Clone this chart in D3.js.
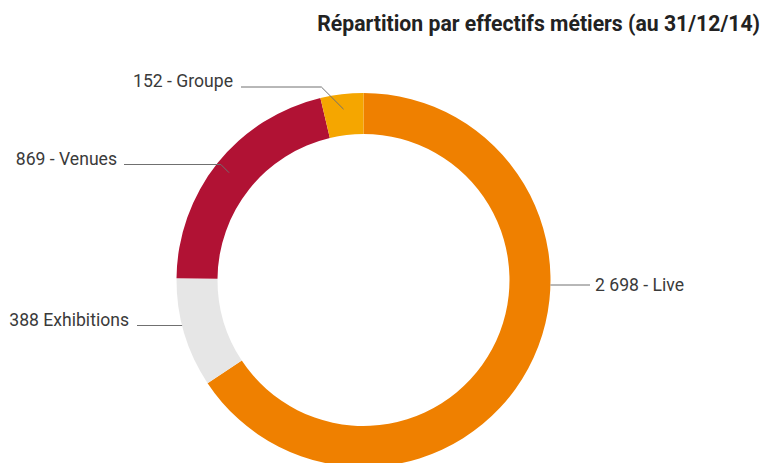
<!DOCTYPE html>
<html>
<head>
<meta charset="utf-8">
<script src="https://cdn.jsdelivr.net/npm/d3@7"></script>
<style>
  html, body { margin: 0; padding: 0; background: #fff; }
  svg { display: block; }
  .title { font-family: Roboto, sans-serif; font-weight: bold; fill: #222; }
  .lbl { font-family: Roboto, sans-serif; fill: #3a3a3a; }
  .leader { stroke: #707070; stroke-width: 1; fill: none; }
</style>
</head>
<body>
<script>
// data
var categories = ['Live', 'Exhibitions', 'Venues', 'Groupe'];
var values     = [2698, 388, 869, 152];
var labels     = ['2 698 - Live', '388 Exhibitions', '869 - Venues', '152 - Groupe'];
var colors     = ['#ef8000', '#e6e6e6', '#b11234', '#f5a600'];

var w = 764, h = 463;
var cx = 363.5, cy = 280,
    outerR = 187, innerR = 146;

var svg = d3.select('body').append('svg').attr('width', w).attr('height', h);

svg.append('text')
  .attr('class', 'title')
  .attr('x', 760).attr('y', 31)
  .attr('text-anchor', 'end')
  .style('font-size', '21.2px')
  .text('Répartition par effectifs métiers (au 31/12/14)');

var pie = d3.pie().sort(null).value(function(d){ return d; });
var arcs = pie(values);

var arc = d3.arc().innerRadius(innerR).outerRadius(outerR);

var g = svg.append('g').attr('transform', 'translate(' + cx + ',' + cy + ')');

g.selectAll('path.slice')
  .data(arcs)
  .enter().append('path')
    .attr('class', 'slice')
    .attr('d', arc)
    .attr('fill', function(d, i){ return colors[i]; });

// label layout: side, text x, baseline y, leader y, kind
// 'bend' = horizontal then 45deg into the ring, 'edge' = horizontal to outer edge
var layout = [
  {side: 'right', tx: 595, ty: 290.5, ly: 285,  kind: 'edge', lx: 590},
  {side: 'left',  tx: 129, ty: 326,   ly: 325.5, kind: 'edge', lx: 137},
  {side: 'left',  tx: 117, ty: 164.5, ly: 164.5, kind: 'bend', lx: 124},
  {side: 'left',  tx: 233, ty: 86.5,  ly: 87,  kind: 'bend', lx: 241}
];

var lineR = 172;

arcs.forEach(function(a, i){
  var L = layout[i];
  var pts;
  if (L.kind === 'edge') {
    var dy = L.ly - cy;
    var dx = Math.sqrt(outerR * outerR - dy * dy);
    var ex = L.side === 'right' ? cx + dx : cx - dx;
    pts = [[L.lx, L.ly], [ex, L.ly]];
  } else {
    var mid = (a.startAngle + a.endAngle) / 2;
    var px = cx + lineR * Math.sin(mid),
        py = cy - lineR * Math.cos(mid);
    var bx = px - (py - L.ly);
    pts = [[L.lx, L.ly], [bx, L.ly], [px, py]];
  }
  svg.append('path')
    .attr('class', 'leader')
    .attr('d', d3.line()(pts));

  svg.append('text')
    .attr('class', 'lbl')
    .attr('x', L.tx).attr('y', L.ty)
    .attr('text-anchor', L.side === 'right' ? 'start' : 'end')
    .style('font-size', '17.6px')
    .text(labels[i]);
});
</script>
</body>
</html>
